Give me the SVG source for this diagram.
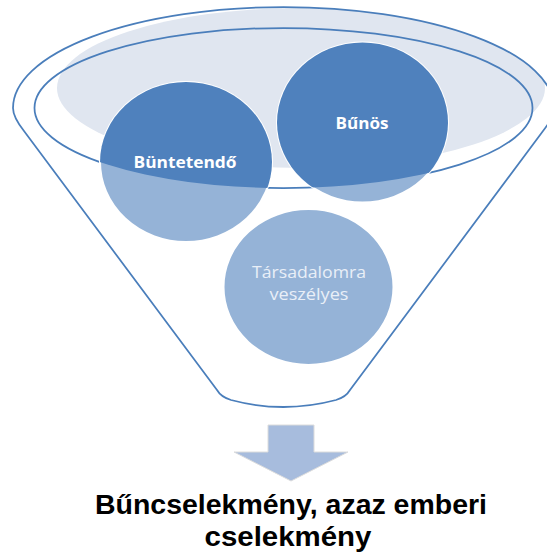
<svg xmlns="http://www.w3.org/2000/svg" width="547" height="556" viewBox="0 0 547 556">
  <style>
    .line { fill: none; stroke: #4a7ebb; stroke-width: 1.75; }
    .ring { stroke: #ffffff; stroke-width: 2; }
    .dark { fill: #4f81bd; }
    .light { fill: #95b3d7; }
    .lbl { font-family: "Open Sans", "Liberation Sans", Arial, sans-serif; font-weight: bold; font-size: 16px; fill: #ffffff; text-anchor: middle; }
    .lbl2 { font-family: "Open Sans", "Liberation Sans", Arial, sans-serif; font-size: 16.5px; fill: #e9eff7; text-anchor: middle; }
    .out { font-family: "Liberation Sans", Arial, sans-serif; font-weight: bold; font-size: 28px; fill: #000000; text-anchor: middle; }
  </style>
  <defs>
    <path id="funnelPath" d="M 217,390 L 24,131 Q 13,117 13,108 A 270.5 101 0 0 1 554,108 Q 554,117 543,131 L 350,390 Q 346,397 336,400 Q 283.5,414 231,400 Q 221,397 217,390 Z"/>
    <clipPath id="funnelClip"><use href="#funnelPath"/></clipPath>
    <clipPath id="innerClip"><ellipse cx="283.5" cy="108" rx="249" ry="80"/></clipPath>
  </defs>
  <rect x="0" y="0" width="547" height="556" fill="#ffffff"/>

  <g id="funnel">
    <use href="#funnelPath" fill="#ffffff"/>
    <ellipse cx="301" cy="88" rx="244" ry="80" fill="#e0e6f0" clip-path="url(#funnelClip)"/>
    <use href="#funnelPath" class="line"/>
    <ellipse cx="283.5" cy="108" rx="249" ry="80" class="line"/>
  </g>

  <g id="node-buntetendo">
    <ellipse cx="186" cy="162" rx="86" ry="80" class="light ring"/>
    <ellipse cx="186" cy="162" rx="86" ry="80" class="dark" clip-path="url(#innerClip)"/>
    <text x="185" y="168" class="lbl" textLength="103" lengthAdjust="spacingAndGlyphs">Büntetendő</text>
  </g>

  <g id="node-bunos">
    <ellipse cx="362.5" cy="122.5" rx="85.5" ry="80" class="light ring"/>
    <ellipse cx="362.5" cy="122.5" rx="85.5" ry="80" class="dark" clip-path="url(#innerClip)"/>
    <text x="362" y="129" class="lbl" textLength="53" lengthAdjust="spacingAndGlyphs">Bűnös</text>
  </g>

  <g id="node-tarsadalomra">
    <ellipse cx="308.5" cy="287" rx="85" ry="78" class="light ring"/>
    <text x="309" y="278" class="lbl2" textLength="114" lengthAdjust="spacingAndGlyphs">Társadalomra</text>
    <text x="309" y="300" class="lbl2" textLength="79" lengthAdjust="spacingAndGlyphs">veszélyes</text>
  </g>

  <g id="connectors">
    <path d="M 268,425 L 314,425 L 314,452 L 348,452 L 291,481 L 234,452 L 268,452 Z" fill="#a7bcdd" stroke="#dcdcdc" stroke-width="1"/>
  </g>

  <g id="node-result">
    <text x="291" y="514" class="out" textLength="392" lengthAdjust="spacingAndGlyphs">Bűncselekmény, azaz emberi</text>
    <text x="288" y="546" class="out" textLength="167" lengthAdjust="spacingAndGlyphs">cselekmény</text>
  </g>
</svg>
